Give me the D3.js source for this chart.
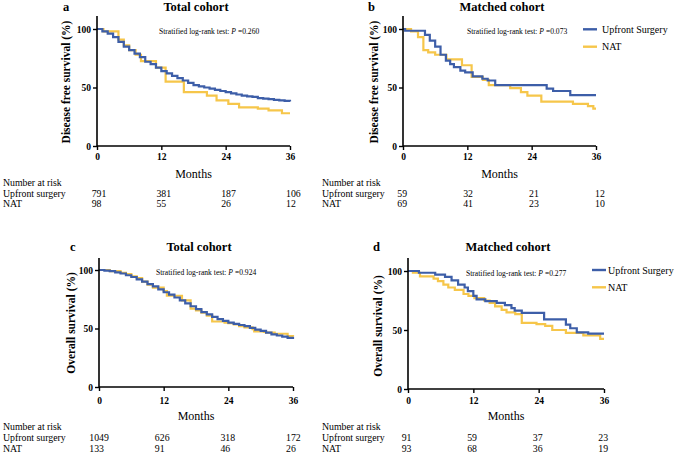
<!DOCTYPE html>
<html><head><meta charset="utf-8">
<script src="https://cdn.jsdelivr.net/npm/d3@7"></script>
<style>
html,body{margin:0;padding:0;background:#fff;}
svg{display:block;font-family:"Liberation Serif","Times New Roman",serif;}
</style></head>
<body><svg id="c" width="677" height="454"></svg>
<script>
// ---------- DATA ----------
const monthTicks = [0, 12, 24, 36];
const survTicks = [0, 50, 100];
const seriesNames = ["Upfront Surgery", "NAT"];
const riskRowNames = ["Upfront surgery", "NAT"];

// Panel a: DFS, total cohort  [month, survival %]
const dfsTotalUpfront = [[0,100],[1,98],[2,96],[3,93],[4,89],[5,85],[6,82],[7,79],[8,76],[9,72],[10,70],[11,67],[12,64],[13,62],[14,60],[15,58],[16,56],[17,54],[18,52],[19,51],[20,50],[21,49],[22,48],[23,47],[24,46],[25,45],[26,44],[27,43],[28,42.5],[29,42],[30,41],[31,40.5],[32,40],[33,39.5],[34,39],[35,38.5],[36,38]];
const dfsTotalNAT = [[0,100],[1.2,98],[4,91],[5,86],[6,82],[7.2,78],[8.2,72.5],[11,67],[12.8,55],[16.2,46],[20.5,43],[22.3,39],[24.5,36],[26.5,33],[30,32],[32,30.5],[34.5,28],[36,28]];
// Panel b: DFS, matched cohort
const dfsMatchedUpfront = [[0,100],[0.4,98.5],[4.1,95],[5,90],[6,85],[7,78],[8,73],[8.8,70],[9.5,67.5],[10.7,64.5],[11.6,63],[13,59.5],[14.8,57.5],[15.8,56],[17.2,52],[26.8,49],[28,47],[31.2,43.5],[36,43.5]];
const dfsMatchedNAT = [[0,100],[1.5,98],[2.8,93],[3.8,82],[4.7,80],[6,78],[8.1,74],[11,69],[12.8,59],[14.9,56.5],[16,52],[20,49.5],[22,46],[23.2,43],[25.8,38],[31.7,36],[34.5,34],[35.5,32],[36,32]];
// Panel c: OS, total cohort
const osTotalUpfront = [[0,100],[1,99.5],[2,99],[3,98],[4,97],[5,95.5],[6,94],[7,92],[8,90],[9,88],[10,86],[11,83.5],[12,81],[13,79],[14,76.5],[15,74],[16,71.5],[17,69],[18,66.5],[19,64],[20,62],[21,60],[22,58],[23,56.5],[24,55],[25,54],[26,53],[27,52],[28,50.5],[29,49],[30,48],[31,46.5],[32,45],[33,44],[34,43],[35,42],[36,41]];
const osTotalNAT = [[0,100],[2,99],[4,97.5],[5,96.5],[6,94.5],[7,93],[8,90],[9,87.5],[10,85],[12,82],[12.6,78],[15.4,74],[17,67],[18,65.5],[19,63.5],[20,61],[21,56],[23.3,55],[24,54.5],[25,53.5],[26,52],[27,51],[28.5,49.5],[28.8,47.5],[30.6,47],[31,46.5],[32.6,45.5],[35,43.5],[36,43]];
// Panel d: OS, matched cohort
const osMatchedUpfront = [[0,100],[2,98.5],[5,97],[6.8,95],[8,92],[9.2,88.5],[10.4,86],[11,83],[12,79],[12.6,76],[14.2,74.5],[16.3,73],[17.8,71],[19,68.5],[19.6,66.5],[20.9,64.5],[25,59],[29,54.5],[29.8,51.5],[31,48],[33.1,47],[36,47]];
const osMatchedNAT = [[0,100],[0.9,98.5],[2.2,95.5],[4.7,93.5],[5.5,91.5],[6.5,88.5],[7.4,86],[8.6,84],[10.2,80.5],[11.1,79],[12.2,77],[14,75],[15,73],[16,70],[17.2,67],[18.1,65],[19.7,63.5],[20.9,56],[23.6,55],[25.2,53.5],[26.5,50],[29,47.5],[32.2,45.5],[35.3,42.5],[36,42.5]];

// Numbers at risk
const riskDfsTotalUpfront = [791, 381, 187, 106];
const riskDfsTotalNAT = [98, 55, 26, 12];
const riskDfsMatchedUpfront = [59, 32, 21, 12];
const riskDfsMatchedNAT = [69, 41, 23, 10];
const riskOsTotalUpfront = [1049, 626, 318, 172];
const riskOsTotalNAT = [133, 91, 46, 26];
const riskOsMatchedUpfront = [91, 59, 37, 23];
const riskOsMatchedNAT = [93, 68, 36, 19];

const pValues = ["0.260", "0.073", "0.924", "0.277"];
const panelLetters = ["a", "b", "c", "d"];
const panelTitles = ["Total cohort", "Matched cohort", "Total cohort", "Matched cohort"];
const yLabels = ["Disease free survival (%)", "Disease free survival (%)", "Overall survival (%)", "Overall survival (%)"];

// ---------- LAYOUT ----------
const BLUE = "#3d5ea8", YELLOW = "#f6c64a";
const panels = [
  {x0:97, x1:290, yTop:16, y100:29, y0:146, tickLab:159.5, monthsY:178, rowY:[186,196.5,207], labelX:3, riskX:[91.7,286],
   ylabX:69.5, ylabY:82, letterX:63, titleX:196, headY:11, statX:159, statY:33.5, legend:false,
   series:[dfsTotalUpfront, dfsTotalNAT], risk:[riskDfsTotalUpfront, riskDfsTotalNAT]},
  {x0:403, x1:596, yTop:16, y100:29, y0:146, tickLab:159.5, monthsY:177.5, rowY:[186,196.5,207], labelX:322, riskX:[397.3,595],
   ylabX:378, ylabY:82, letterX:368, titleX:502, headY:11, statX:467, statY:33.5, legend:{lx:583, tx:602, y:[29.3,46.7]},
   series:[dfsMatchedUpfront, dfsMatchedNAT], risk:[riskDfsMatchedUpfront, riskDfsMatchedNAT]},
  {x0:99, x1:293, yTop:258, y100:270, y0:387, tickLab:404, monthsY:419.5, rowY:[430,441,451.5], labelX:3, riskX:[89.3,286],
   ylabX:75, ylabY:323, letterX:70, titleX:199, headY:251, statX:156, statY:274.5, legend:false,
   series:[osTotalUpfront, osTotalNAT], risk:[riskOsTotalUpfront, riskOsTotalNAT]},
  {x0:408, x1:604, yTop:258, y100:271, y0:389, tickLab:404, monthsY:419.5, rowY:[430,441,451.5], labelX:322, riskX:[401.7,598.3],
   ylabX:382, ylabY:326, letterX:373, titleX:508, headY:251, statX:466, statY:275.5, legend:{lx:592, tx:608, y:[270,287.3]},
   series:[osMatchedUpfront, osMatchedNAT], risk:[riskOsMatchedUpfront, riskOsMatchedNAT]}
];

const svg = d3.select("#c");
const colors = [BLUE, YELLOW];

panels.forEach((p, i) => {
  const g = svg.append("g");
  const x = d3.scaleLinear().domain([0, 36]).range([p.x0, p.x1]);
  const yPer = (p.y0 - p.y100) / 100;
  const yMax = (p.y0 - p.yTop) / yPer;
  const y = d3.scaleLinear().domain([0, yMax]).range([p.y0, p.yTop]);

  const line = d3.line().x(d => x(d[0])).y(d => y(d[1])).curve(d3.curveStepAfter);
  [1, 0].forEach(k => {
    g.append("path").attr("d", line(p.series[k])).attr("fill", "none")
      .attr("stroke", colors[k]).attr("stroke-width", 2.2);
  });

  const xAxis = d3.axisBottom(x).tickValues(monthTicks).tickSize(4).tickSizeOuter(0).tickPadding(3);
  const yAxis = d3.axisLeft(y).tickValues(survTicks).tickSize(4).tickSizeOuter(0).tickPadding(2);
  const gx = g.append("g").attr("transform", `translate(0,${p.y0})`).call(xAxis);
  const gy = g.append("g").attr("transform", `translate(${p.x0},0)`).call(yAxis);
  [gx, gy].forEach(a => {
    a.select(".domain").attr("stroke", "#000").attr("stroke-width", 1.6);
    a.selectAll(".tick line").attr("stroke", "#000").attr("stroke-width", 1.4);
    a.selectAll(".tick text").attr("fill", "#000").attr("font-family", "Liberation Serif")
      .attr("font-weight", "bold").attr("font-size", 9.5);
  });
  gx.selectAll(".tick text").attr("dy", null).attr("y", p.tickLab - p.y0);
  gy.select(".domain").attr("d", `M0,${p.y0}V${p.yTop}`);
  gx.select(".domain").attr("d", `M${p.x0},0H${p.x1}`);

  g.append("text").attr("x", p.letterX).attr("y", p.headY).attr("font-weight", "bold")
    .attr("font-size", 12.5).text(panelLetters[i]);
  g.append("text").attr("x", p.titleX).attr("y", p.headY).attr("text-anchor", "middle")
    .attr("font-weight", "bold").attr("font-size", 12.5).text(panelTitles[i]);

  g.append("text").attr("transform", `translate(${p.ylabX},${p.ylabY}) rotate(-90)`)
    .attr("text-anchor", "middle").attr("font-weight", "bold").attr("font-size", 11.5).text(yLabels[i]);

  const st = g.append("text").attr("x", p.statX).attr("y", p.statY).attr("font-size", 7.6);
  st.append("tspan").text("Stratified log-rank test: ");
  st.append("tspan").attr("font-style", "italic").text("P");
  st.append("tspan").text(" =" + pValues[i]);

  g.append("text").attr("x", (p.x0 + p.x1) / 2).attr("y", p.monthsY).attr("text-anchor", "middle")
    .attr("font-size", 12).text("Months");

  const rx = d3.scaleLinear().domain([0, 36]).range(p.riskX);
  g.append("text").attr("x", p.labelX).attr("y", p.rowY[0]).attr("font-size", 9.8).text("Number at risk");
  riskRowNames.forEach((nm, r) => {
    g.append("text").attr("x", p.labelX).attr("y", p.rowY[r + 1]).attr("font-size", 9.8).text(nm);
    g.selectAll(null).data(p.risk[r]).enter().append("text")
      .attr("x", (d, j) => rx(monthTicks[j])).attr("y", p.rowY[r + 1])
      .attr("font-size", 9.8).text(d => d);
  });

  if (p.legend) {
    seriesNames.forEach((nm, k) => {
      g.append("line").attr("x1", p.legend.lx).attr("x2", p.legend.lx + 14)
        .attr("y1", p.legend.y[k]).attr("y2", p.legend.y[k]).attr("stroke", colors[k]).attr("stroke-width", 2.4);
      g.append("text").attr("x", p.legend.tx).attr("y", p.legend.y[k] + 3.6).attr("font-size", 10).text(nm);
    });
  }
});
</script>
</body></html>
